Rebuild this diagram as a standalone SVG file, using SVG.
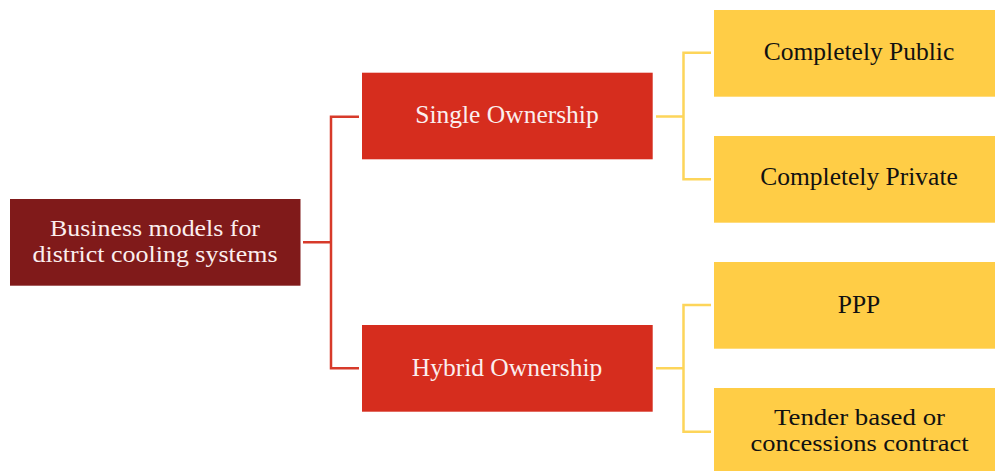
<svg xmlns="http://www.w3.org/2000/svg" width="995" height="471" viewBox="0 0 995 471">
<style>
.t{font-family:"Liberation Serif","Times New Roman",serif;font-size:25.5px;text-anchor:middle}
.s{font-size:23.5px}
.w{fill:#fbeeee}
.k{fill:#111}
.cr{fill:none;stroke:#d73a2a;stroke-width:2.5}
.cy{fill:none;stroke:#fdd55a;stroke-width:2.5}
</style>
<rect width="995" height="471" fill="#fff"/>
<g id="connectors">
<path class="cr" d="M303 242.3H331M359 116.7H331V368.3H359"/>
<path class="cy" d="M656 116.5H683.5M711 52.7H683.5V179.3H711"/>
<path class="cy" d="M656 368.3H683.5M711 305H683.5V431.7H711"/>
</g>
<g id="root">
<rect x="10" y="199" width="290.5" height="86.7" fill="#801a1a"/>
<text class="t s w" x="155" y="236" textLength="210" lengthAdjust="spacingAndGlyphs">Business models for</text>
<text class="t s w" x="155" y="262" textLength="245" lengthAdjust="spacingAndGlyphs">district cooling systems</text>
</g>
<g id="single">
<rect x="362" y="72.7" width="290.7" height="86.6" fill="#d62d1e"/>
<text class="t w" x="507" y="123.3">Single Ownership</text>
</g>
<g id="hybrid">
<rect x="362" y="325" width="290.7" height="86.7" fill="#d62d1e"/>
<text class="t w" x="507" y="376">Hybrid Ownership</text>
</g>
<g id="public">
<rect x="714" y="10" width="281" height="86.7" fill="#ffcd46"/>
<text class="t k" x="859" y="60">Completely Public</text>
</g>
<g id="private">
<rect x="714" y="136" width="281" height="86.7" fill="#ffcd46"/>
<text class="t k" x="859" y="185">Completely Private</text>
</g>
<g id="ppp">
<rect x="714" y="262" width="281" height="86.7" fill="#ffcd46"/>
<text class="t k" x="859" y="313.3">PPP</text>
</g>
<g id="tender">
<rect x="714" y="388" width="281" height="83" fill="#ffcd46"/>
<text class="t s k" x="859.5" y="425" textLength="171" lengthAdjust="spacingAndGlyphs">Tender based or</text>
<text class="t s k" x="859.5" y="451" textLength="218" lengthAdjust="spacingAndGlyphs">concessions contract</text>
</g>
</svg>
